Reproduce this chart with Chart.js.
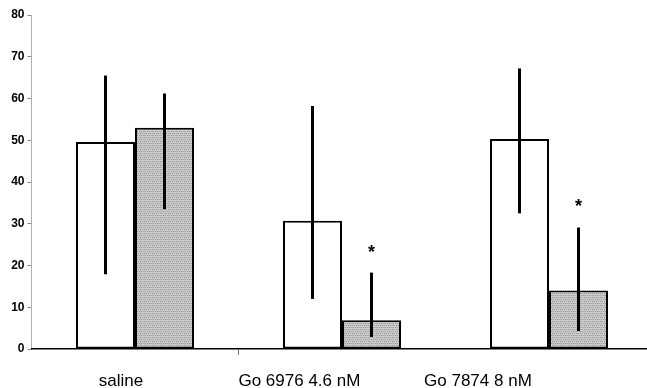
<!DOCTYPE html>
<html>
<head>
<meta charset="utf-8">
<script src="https://cdn.jsdelivr.net/npm/chart.js@4"></script>
<style>
  html, body { margin: 0; padding: 0; background: #fff; overflow: hidden; }
  #wrap { width: 660px; height: 388px; }
</style>
</head>
<body>
<div id="wrap"><canvas id="myChart"></canvas></div>
<script>
const CATEGORIES = ["saline", "Go 6976 4.6 nM", "Go 7874 8 nM"];
const Y_TICKS = [0, 10, 20, 30, 40, 50, 60, 70, 80];

// white bars
const WHITE_MEAN = [49.6, 30.7, 50.3];
const WHITE_LOW = [17.9, 12.0, 32.5];
const WHITE_HIGH = [65.5, 58.2, 67.2];

// grey (stippled) bars
const GREY_MEAN = [53.0, 6.9, 14.0];
const GREY_LOW = [33.5, 2.9, 4.3];
const GREY_HIGH = [61.2, 18.3, 29.1];
const GREY_STAR = [false, true, true];

// stippled grey fill
function makePattern() {
  let c = document.createElement("canvas");
  c.width = 4; c.height = 4;
  let g = c.getContext("2d");
  g.fillStyle = "#cdcdcd";
  g.fillRect(0, 0, 4, 4);
  g.fillStyle = "#9c9c9c";
  g.fillRect(0, 1, 1, 1); g.fillRect(2, 1, 1, 1);
  g.fillRect(1, 3, 1, 1); g.fillRect(3, 3, 1, 1);
  g.fillStyle = "#b4b4b4";
  g.fillRect(1, 1, 1, 1); g.fillRect(0, 3, 1, 1);
  return g.createPattern(c, "repeat");
}

// draws the vertical error lines and the asterisks
const errorBars = {
  id: "errorBars",
  afterDatasetsDraw(chart) {
    const ctx = chart.ctx;
    const y = chart.scales.y;
    const ranges = [[WHITE_LOW, WHITE_HIGH], [GREY_LOW, GREY_HIGH]];
    ctx.save();
    ctx.strokeStyle = "#000";
    ctx.lineWidth = 3;
    ranges.forEach((r, di) => {
      chart.getDatasetMeta(di).data.forEach((bar, i) => {
        ctx.beginPath();
        ctx.moveTo(bar.x, y.getPixelForValue(r[0][i]));
        ctx.lineTo(bar.x, y.getPixelForValue(r[1][i]));
        ctx.stroke();
      });
    });
    ctx.fillStyle = "#000";
    ctx.font = "bold 18px 'Liberation Sans', Arial, sans-serif";
    ctx.textAlign = "center";
    ctx.textBaseline = "middle";
    chart.getDatasetMeta(1).data.forEach((bar, i) => {
      if (GREY_STAR[i]) {
        ctx.fillText("*", bar.x, y.getPixelForValue(GREY_HIGH[i]) - 20);
      }
    });
    ctx.restore();
  }
};

function generateGraph() {
  let ctx = document.getElementById("myChart").getContext("2d");
  return new Chart(ctx, {
    type: "bar",
    data: {
      labels: CATEGORIES,
      datasets: [
        {
          data: WHITE_MEAN,
          backgroundColor: "#ffffff",
          borderColor: "#000000",
          borderWidth: 2,
          borderSkipped: false,
        },
        {
          data: GREY_MEAN,
          backgroundColor: makePattern(),
          borderColor: "#000000",
          borderWidth: 2,
          borderSkipped: false,
        },
      ],
    },
    options: {
      responsive: false,
      animation: false,
      maintainAspectRatio: false,
      layout: { padding: { top: 15, right: 7.5, left: 0, bottom: 0 } },
      plugins: { legend: { display: false }, tooltip: { enabled: false } },
      datasets: { bar: { categoryPercentage: 0.57, barPercentage: 1.0 } },
      scales: {
        y: {
          min: 0,
          max: 80,
          afterBuildTicks: (s) => { s.ticks = Y_TICKS.map((v) => ({ value: v })); },
          afterFit: (s) => { s.width = 31.5; },
          border: { color: "#b0b0b0", width: 1 },
          grid: { drawOnChartArea: false, tickLength: 4, color: "#888" },
          ticks: {
            color: "#000",
            padding: 3,
            font: { family: "'Liberation Sans', Arial, sans-serif", size: 12, weight: "bold" },
          },
        },
        x: {
          afterFit: (s) => { s.height = 6; },
          border: { color: "#000", width: 1.5 },
          grid: {
            offset: true,
            drawOnChartArea: false,
            tickLength: 6,
            color: (c) => (c.index === 1 ? "#777" : "rgba(0,0,0,0)"),
          },
          ticks: { display: false },
        },
        // label axis: the printed labels sit left of the bar groups
        xl: {
          type: "linear",
          position: "bottom",
          offset: false,
          bounds: "data",
          min: -0.501,
          max: 2.978,
          afterBuildTicks: (s) => { s.ticks = CATEGORIES.map((c, i) => ({ value: i })); },
          afterFit: (s) => { s.height = 33; },
          border: { display: false },
          grid: { display: false },
          ticks: {
            color: "#000",
            padding: 8,
            maxRotation: 0,
            autoSkip: false,
            callback: (v) => CATEGORIES[v],
            font: { family: "'Liberation Sans', Arial, sans-serif", size: 17 },
          },
        },
      },
    },
    plugins: [errorBars],
  });
}

let c = document.getElementById("myChart");
c.width = 660;
c.height = 388;
generateGraph();
</script>
</body>
</html>
